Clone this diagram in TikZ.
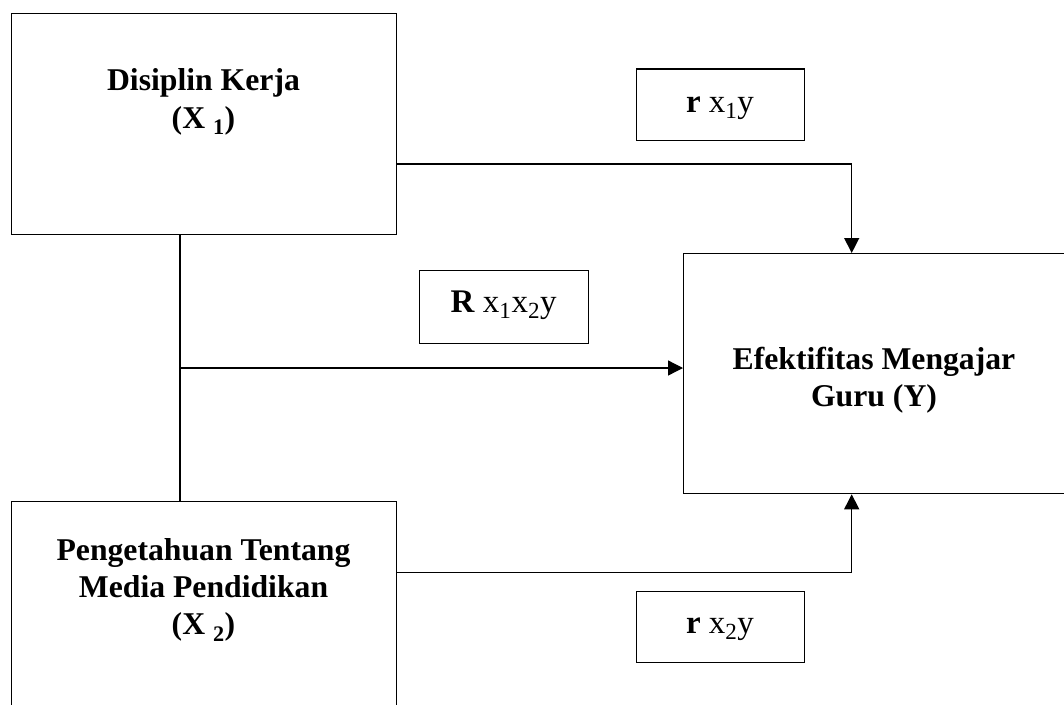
\documentclass[tikz,border=0pt]{standalone}
\usepackage{fontspec}
\setmainfont{Liberation Serif}
\usetikzlibrary{arrows.meta,calc}
\tikzset{
  box/.style={draw, line width=1.3pt, rectangle, inner sep=0pt, anchor=north west},
  ttl/.style={font=\bfseries\fontsize{31.7}{37.3}\selectfont, align=center, inner sep=0pt, anchor=center},
  lbl/.style={font=\fontsize{33}{38}\selectfont, inner sep=0pt, anchor=base},
  arr/.style={line width=1.3pt, -{Triangle[width=15pt,length=15pt]}},
  ln/.style={line width=1.3pt}
}
\begin{document}
\begin{tikzpicture}[x=1pt,y=-1pt]
\useasboundingbox (0,0) rectangle (1064,704);
\fill[white] (0,0) rectangle (1064,704);
\clip (0,0) rectangle (1064,704);
% boxes
\node[box, minimum width=385pt, minimum height=221.3pt] (x1) at (11,12.7) {};
\node[box, minimum width=385pt, minimum height=219pt] (x2) at (11,501) {};
\node[box, minimum width=385pt, minimum height=240pt] (y) at (683,253) {};
\node[box, minimum width=168pt, minimum height=71.7pt] (r1) at (636,68.3) {};
\node[box, minimum width=169pt, minimum height=72.7pt] (rr) at (419,270) {};
\node[box, minimum width=168pt, minimum height=71pt] (r2) at (636,591) {};
% texts
\node[ttl] (x1t) at (203.5,102) {Disiplin Kerja\\(X \textsubscript{1})};
\node[ttl] (x2t) at (203.5,590) {Pengetahuan Tentang\\Media Pendidikan\\(X \textsubscript{2})};
\node[ttl] (yt) at (874,380) {Efektifitas Mengajar\\Guru (Y)};
\node[lbl] (r1t) at (720,112) {\textbf{r} x\textsubscript{1}y};
\node[lbl] (rrt) at (503.6,312) {\textbf{R} x\textsubscript{1}x\textsubscript{2}y};
\node[lbl] (r2t) at (720,633) {\textbf{r} x\textsubscript{2}y};
% connectors
\draw[arr] ($(x1.north east)+(0,151.3)$) -| ($(y.north west)+(168.7,0)$);
\draw[ln] ($(x1.south west)+(169,0)$) -- ($(x2.north west)+(169,0)$);
\coordinate (j) at (180,368);
\draw[arr] (j) -- (j -| y.west);
\draw[arr] ($(x2.north east)+(0,71.7)$) -| ($(y.south west)+(168.7,0)$);
\end{tikzpicture}
\end{document}
